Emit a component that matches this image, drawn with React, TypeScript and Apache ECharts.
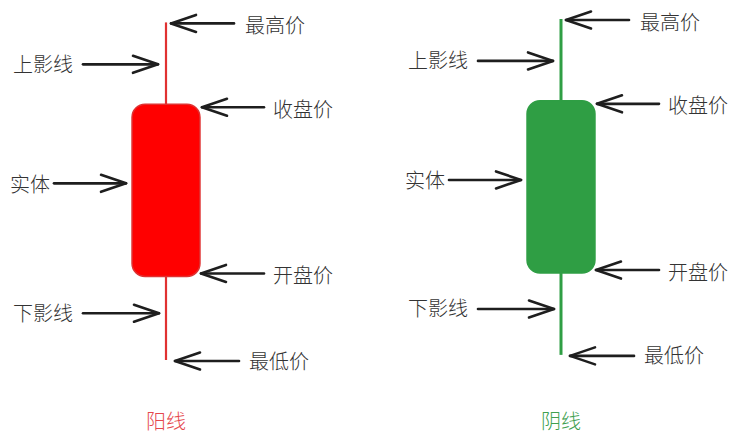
import React, { useEffect, useRef } from "react";
import * as echarts from "echarts";

// Candle categories (x axis labels)
const categories = ["阳线", "阴线"];
// Per-candle prices: open, close, low, high
const opens = [24.5, 76];
const closes = [75, 25.5];
const lows = [0, 1.5];
const highs = [99, 100];
// Annotation labels
const rightLabels = ["最高价", "收盘价", "开盘价", "最低价"];
const leftLabels = ["上影线", "实体", "下影线"];

const bodyFill = ["#ff0000", "#2f9e44"];
const bodyStroke = ["#e03131", "#2f9e44"];
const labelColor = ["#e5484d", "#40a04f"];

const FONT = '"Noto Sans CJK SC", "Noto Sans", sans-serif';
const INK = "#1e1e1e";
const TXT = "#333333";

function arrow(tipX: number, y: number, tailX: number) {
  const dir = tailX > tipX ? 1 : -1;
  const hx = tipX + dir * 25;
  const st = { stroke: INK, lineWidth: 2.6, lineCap: "round", fill: null };
  return [
    { type: "line", shape: { x1: tailX, y1: y, x2: tipX, y2: y }, style: st },
    { type: "polyline", shape: { points: [[hx, y - 8.5], [tipX, y], [hx, y + 8.5]] }, style: { ...st, lineJoin: "round" } },
  ];
}

function label(text: string, x: number, y: number, align: string) {
  return {
    type: "text",
    style: { text, x, y, fill: TXT, fontSize: 20, fontWeight: 300, fontFamily: FONT, align, verticalAlign: "middle" },
  };
}

export default function App() {
  const ref = useRef<HTMLDivElement>(null);
  useEffect(() => {
    document.body.style.margin = "0";
    const chart = echarts.init(ref.current!, null, { renderer: "svg" });
    const data = categories.map((_, i) => [i, opens[i], closes[i], lows[i], highs[i]]);
    chart.setOption({
      animation: false,
      backgroundColor: "#ffffff",
      grid: { left: 166, right: 178, top: 19, bottom: 85 },
      xAxis: {
        type: "category",
        data: categories,
        boundaryGap: false,
        axisLine: { show: false },
        axisTick: { show: false },
        splitLine: { show: false },
        axisLabel: {
          margin: 50,
          formatter: (v: string) => (v === categories[0] ? `{a|${v}}` : `{b|${v}}`),
          rich: {
            a: { color: labelColor[0], fontSize: 20, fontWeight: 300, fontFamily: FONT },
            b: { color: labelColor[1], fontSize: 20, fontWeight: 300, fontFamily: FONT },
          },
        },
      },
      yAxis: { type: "value", min: 0, max: 100, show: false, splitLine: { show: false } },
      series: [
        {
          type: "custom",
          data,
          encode: { x: 0, y: [1, 2, 3, 4] },
          renderItem: (params: any, api: any) => {
            const i = api.value(0);
            const o = api.value(1), c = api.value(2), l = api.value(3), h = api.value(4);
            const top = Math.max(o, c), bot = Math.min(o, c);
            const [cx, yTop] = api.coord([i, top]);
            const yBot = api.coord([i, bot])[1];
            const yHigh = api.coord([i, h])[1];
            const yLow = api.coord([i, l])[1];
            const bw = api.size([1, 0])[0] * 0.172;
            const wick = { stroke: bodyStroke[i], lineWidth: i === 0 ? 2.2 : 3 };
            const upMid = (yHigh + yTop) / 2 + 1;
            const bodyMid = (yTop + yBot) / 2 - 7;
            const lowMid = (yBot + yLow) / 2 - 5;
            const children: any[] = [
              { type: "line", shape: { x1: cx, y1: yHigh, x2: cx, y2: yTop }, style: wick },
              { type: "line", shape: { x1: cx, y1: yBot, x2: cx, y2: yLow }, style: wick },
              {
                type: "rect",
                shape: { x: cx - bw / 2, y: yTop, width: bw, height: yBot - yTop, r: 13 },
                style: { fill: bodyFill[i], stroke: bodyStroke[i], lineWidth: 1.5 },
              },
              ...arrow(cx + 5, yHigh + 1, cx + 68),
              label(rightLabels[0], cx + 79, yHigh + 2, "left"),
              ...arrow(cx - 8, upMid, cx - 83),
              label(leftLabels[0], cx - 93, upMid - 1, "right"),
              ...arrow(cx + bw / 2 + 2, yTop + 3, cx + 98),
              label(rightLabels[1], cx + 107, yTop + 4, "left"),
              ...arrow(cx - bw / 2 - 6, bodyMid, cx - 112),
              label(leftLabels[1], cx - 116, bodyMid, "right"),
              ...arrow(cx + bw / 2 + 1, yBot - 3, cx + 98),
              label(rightLabels[2], cx + 107, yBot - 2, "left"),
              ...arrow(cx - 7, lowMid, cx - 83),
              label(leftLabels[2], cx - 93, lowMid - 1, "right"),
              ...arrow(cx + 9, yLow + 1, cx + 73),
              label(rightLabels[3], cx + 83, yLow, "left"),
            ];
            return { type: "group", children };
          },
        },
      ],
    });
    return () => chart.dispose();
  }, []);
  return <div ref={ref} style={{ width: 739, height: 445 }} />;
}
